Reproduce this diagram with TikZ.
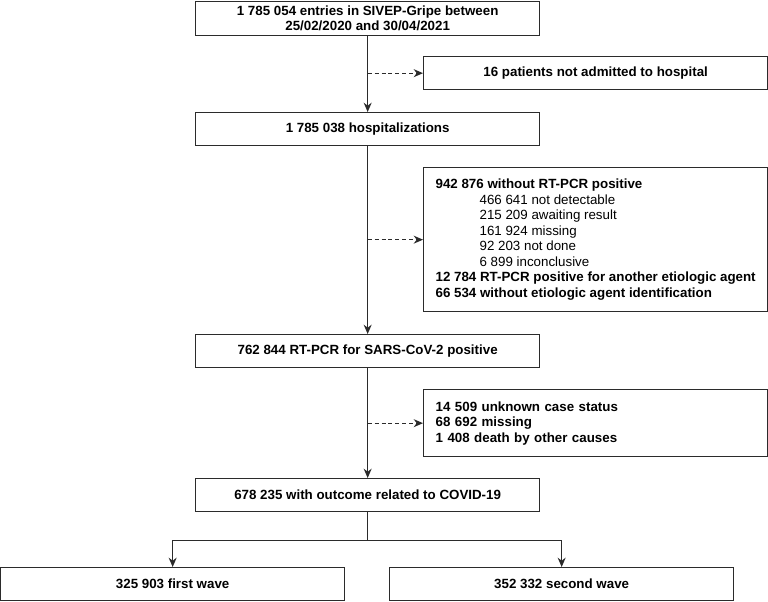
\documentclass[tikz,border=0pt]{standalone}
\usepackage{fontspec}
\setmainfont{Liberation Sans}
\usepackage{tikz}
\usetikzlibrary{arrows.meta}
\usetikzlibrary{positioning}

\definecolor{linegray}{HTML}{2B2B2B}

\tikzset{
  flowbox/.style={rectangle, draw=linegray, line width=1pt, fill=white, minimum width=258pt, minimum height=24.75pt, font=\fontsize{10}{11.6}\selectfont\bfseries},
  listbox/.style={flowbox, align=left},
  flowline/.style={draw=linegray, line width=1pt},
  flowarrow/.style={flowline, -{Stealth[length=7pt,width=6pt]}},
  splitarrow/.style={flowline, {Stealth[length=7pt,width=6pt]}-{Stealth[length=7pt,width=6pt]}},
  skiparrow/.style={flowarrow, dash pattern=on 3pt off 2.2pt}
}
\newcommand{\indentline}{\mdseries\hspace*{33pt}}

\begin{document}
\begin{tikzpicture}[x=0.75pt, y=-0.75pt]

\useasboundingbox (0,0) rectangle (768,601);

%\draw[step=50, gray, very thin, dotted] (0,0) grid (768,601);

\node at (195,0.5) [flowbox, minimum height=25pt, align=center, anchor=north west] (entries) {1 785 054 entries in SIVEP-Gripe between\\25/02/2020 and 30/04/2021};
\node at (423,56) [flowbox, anchor=north west] (notadm) {16 patients not admitted to hospital};
\node at (195,112) [flowbox, anchor=north west] (hosp) {1 785 038 hospitalizations};

\node at (423,167) [listbox, minimum height=108pt, anchor=north west] (nopcr) {942 876 without RT-PCR positive\\
{\indentline 466 641 not detectable}\\
{\indentline 215 209 awaiting result}\\
{\indentline 161 924 missing}\\
{\indentline 92 203 not done}\\
{\indentline 6 899 inconclusive}\\
12 784 RT-PCR positive for another etiologic agent\\
66 534 without etiologic agent identification};

\node at (195,334) [flowbox, anchor=north west] (pcr) {762 844 RT-PCR for SARS-CoV-2 positive};
\node at (423,389) [listbox, text width=240pt, inner xsep=9pt, minimum height=50.25pt, anchor=north west] (nooutcome) {14 509 unknown case status\\
68 692 missing\\
1 408 death by other causes};
\node at (195,478) [flowbox, anchor=north west] (outcome) {678 235 with outcome related to COVID-19};

\node at (0,567) [flowbox, anchor=north west] (wave1) {325 903 first wave};
\node at (389,567) [flowbox, anchor=north west] (wave2) {352 332 second wave};

\draw[flowarrow] (entries) -- (hosp);
\draw[flowarrow] (hosp) -- (pcr);
\draw[flowarrow] (pcr) -- (outcome);

\draw[skiparrow] (notadm.west -| entries.south) -- (notadm.west);
\draw[skiparrow] (nopcr.west -| hosp.south) -- (nopcr.west);
\draw[skiparrow] (nooutcome.west -| pcr.south) -- (nooutcome.west);

\coordinate[below=21pt of outcome] (split);
\draw[flowline] (outcome.south) -- (split);
\draw[splitarrow] (wave1.north) |- (split) -| (wave2.north);

\end{tikzpicture}
\end{document}
